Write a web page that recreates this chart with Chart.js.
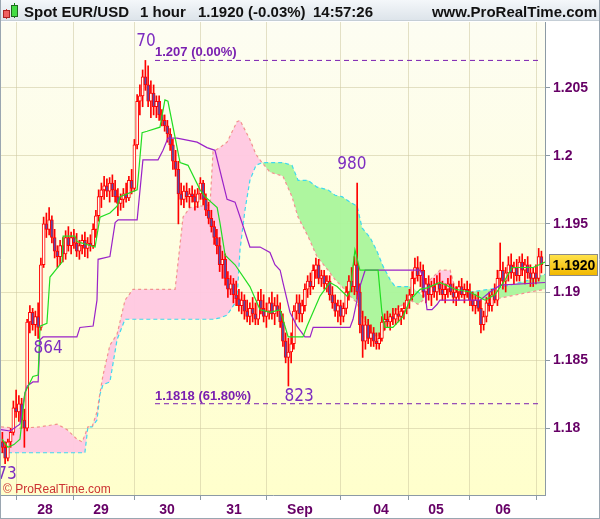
<!DOCTYPE html>
<html><head><meta charset="utf-8">
<script src="https://cdn.jsdelivr.net/npm/chart.js@4.4.0/dist/chart.umd.min.js"></script>
<style>html,body{margin:0;padding:0;background:#fff;overflow:hidden}</style>
</head><body>
<canvas id="c" width="600" height="519"></canvas>
<script>
// ---- data (bar index = hourly bar number) ----
const opens=[1.1790,1.1786,1.1778,1.1790,1.1797,1.1815,1.1812,1.1818,1.1806,1.1800,1.1878,1.1885,1.1876,1.1882,1.1874,1.1920,1.1950,1.1946,1.1953,1.1940,1.1930,1.1926,1.1934,1.1928,1.1940,1.1934,1.1940,1.1936,1.1930,1.1934,1.1938,1.1932,1.1936,1.1934,1.1946,1.1956,1.1970,1.1975,1.1978,1.1974,1.1980,1.1975,1.1970,1.1965,1.1968,1.1972,1.1969,1.1982,1.1976,1.2008,1.2040,1.2044,1.2058,1.2052,1.2040,1.2046,1.2036,1.2040,1.2030,1.2026,1.2022,1.2016,1.2008,1.1996,1.1990,1.1972,1.1968,1.1974,1.1970,1.1972,1.1970,1.1966,1.1972,1.1980,1.1968,1.1960,1.1954,1.1948,1.1940,1.1934,1.1920,1.1924,1.1910,1.1902,1.1906,1.1898,1.1895,1.1890,1.1894,1.1886,1.1882,1.1888,1.1884,1.1880,1.1894,1.1888,1.1882,1.1886,1.1892,1.1884,1.1890,1.1886,1.1878,1.1864,1.1852,1.1856,1.1862,1.1886,1.1892,1.1884,1.1890,1.1902,1.1908,1.1904,1.1916,1.1920,1.1910,1.1912,1.1906,1.1908,1.1898,1.1892,1.1886,1.1890,1.1882,1.1888,1.1900,1.1908,1.1904,1.1920,1.1900,1.1876,1.1864,1.1876,1.1866,1.1870,1.1864,1.1862,1.1866,1.1878,1.1880,1.1878,1.1882,1.1880,1.1884,1.1882,1.1886,1.1888,1.1894,1.1898,1.1910,1.1918,1.1912,1.1916,1.1900,1.1906,1.1898,1.1904,1.1900,1.1906,1.1902,1.1898,1.1902,1.1906,1.1900,1.1896,1.1900,1.1904,1.1898,1.1902,1.1900,1.1894,1.1890,1.1894,1.1888,1.1876,1.1882,1.1892,1.1890,1.1898,1.1894,1.1910,1.1916,1.1908,1.1914,1.1920,1.1914,1.1918,1.1912,1.1922,1.1916,1.1920,1.1914,1.1910,1.1914,1.1910,1.1926];
const highs=[1.1797,1.1790,1.1792,1.1800,1.1820,1.1828,1.1824,1.1822,1.1814,1.1880,1.1890,1.1888,1.1886,1.1892,1.1925,1.1955,1.1958,1.1962,1.1956,1.1946,1.1934,1.1938,1.1940,1.1945,1.1948,1.1944,1.1946,1.1943,1.1938,1.1942,1.1944,1.1940,1.1942,1.1950,1.1960,1.1975,1.1980,1.1985,1.1983,1.1984,1.1986,1.1982,1.1976,1.1972,1.1976,1.1980,1.1985,1.1990,1.2012,1.2045,1.2052,1.2063,1.2070,1.2066,1.2055,1.2052,1.2044,1.2044,1.2034,1.2030,1.2026,1.2020,1.2012,1.2004,1.1996,1.1980,1.1978,1.1980,1.1976,1.1978,1.1975,1.1976,1.1984,1.1982,1.1972,1.1966,1.1960,1.1952,1.1946,1.1940,1.1930,1.1928,1.1915,1.1912,1.1910,1.1908,1.1902,1.1900,1.1898,1.1894,1.1892,1.1896,1.1892,1.1900,1.1902,1.1898,1.1892,1.1896,1.1900,1.1896,1.1898,1.1892,1.1884,1.1870,1.1866,1.1870,1.1890,1.1898,1.1898,1.1894,1.1906,1.1912,1.1914,1.1920,1.1925,1.1924,1.1916,1.1916,1.1912,1.1912,1.1904,1.1898,1.1894,1.1894,1.1892,1.1904,1.1912,1.1918,1.1926,1.1980,1.1906,1.1886,1.1882,1.1880,1.1876,1.1874,1.1870,1.1870,1.1882,1.1884,1.1886,1.1884,1.1888,1.1888,1.1890,1.1888,1.1892,1.1898,1.1902,1.1915,1.1925,1.1926,1.1922,1.1920,1.1910,1.1912,1.1908,1.1910,1.1912,1.1914,1.1908,1.1906,1.1910,1.1912,1.1906,1.1904,1.1908,1.1910,1.1906,1.1908,1.1906,1.1900,1.1898,1.1900,1.1894,1.1886,1.1896,1.1900,1.1902,1.1906,1.1916,1.1936,1.1922,1.1918,1.1926,1.1928,1.1922,1.1924,1.1926,1.1928,1.1924,1.1926,1.1920,1.1918,1.1920,1.1932,1.1930];
const lows=[1.1782,1.1774,1.1776,1.1786,1.1795,1.1808,1.1805,1.1800,1.1786,1.1798,1.1870,1.1872,1.1868,1.1866,1.1872,1.1918,1.1940,1.1942,1.1936,1.1925,1.1918,1.1920,1.1922,1.1924,1.1930,1.1928,1.1932,1.1926,1.1924,1.1928,1.1926,1.1925,1.1930,1.1932,1.1940,1.1952,1.1962,1.1968,1.1970,1.1966,1.1970,1.1966,1.1956,1.1960,1.1962,1.1966,1.1967,1.1972,1.1974,1.2005,1.2030,1.2036,1.2048,1.2036,1.2028,1.2030,1.2028,1.2026,1.2022,1.2018,1.2010,1.2004,1.1990,1.1985,1.1950,1.1964,1.1962,1.1966,1.1962,1.1966,1.1960,1.1962,1.1968,1.1964,1.1956,1.1950,1.1944,1.1935,1.1928,1.1915,1.1910,1.1905,1.1896,1.1898,1.1892,1.1890,1.1886,1.1884,1.1880,1.1878,1.1876,1.1878,1.1876,1.1876,1.1884,1.1878,1.1874,1.1880,1.1880,1.1876,1.1882,1.1874,1.1860,1.1848,1.1831,1.1848,1.1858,1.1880,1.1878,1.1878,1.1886,1.1896,1.1898,1.1902,1.1910,1.1906,1.1904,1.1902,1.1900,1.1894,1.1888,1.1882,1.1878,1.1876,1.1878,1.1884,1.1894,1.1900,1.1898,1.1895,1.1870,1.1852,1.1858,1.1862,1.1860,1.1860,1.1858,1.1858,1.1864,1.1872,1.1874,1.1872,1.1876,1.1876,1.1878,1.1876,1.1880,1.1884,1.1888,1.1894,1.1906,1.1908,1.1904,1.1896,1.1892,1.1894,1.1890,1.1896,1.1894,1.1898,1.1894,1.1892,1.1896,1.1898,1.1892,1.1890,1.1894,1.1896,1.1892,1.1896,1.1890,1.1886,1.1884,1.1886,1.1870,1.1872,1.1878,1.1886,1.1886,1.1892,1.1890,1.1904,1.1902,1.1900,1.1908,1.1910,1.1906,1.1908,1.1908,1.1912,1.1906,1.1910,1.1904,1.1904,1.1906,1.1908,1.1914];
const closes=[1.1786,1.1778,1.1790,1.1797,1.1815,1.1812,1.1818,1.1806,1.1800,1.1878,1.1885,1.1876,1.1882,1.1874,1.1920,1.1950,1.1946,1.1953,1.1940,1.1930,1.1926,1.1934,1.1928,1.1940,1.1934,1.1940,1.1936,1.1930,1.1934,1.1938,1.1932,1.1936,1.1934,1.1946,1.1956,1.1970,1.1975,1.1978,1.1974,1.1980,1.1975,1.1970,1.1965,1.1968,1.1972,1.1969,1.1982,1.1976,1.2008,1.2040,1.2044,1.2058,1.2052,1.2040,1.2046,1.2036,1.2040,1.2030,1.2026,1.2022,1.2016,1.2008,1.1996,1.1990,1.1972,1.1968,1.1974,1.1970,1.1972,1.1970,1.1966,1.1972,1.1980,1.1968,1.1960,1.1954,1.1948,1.1940,1.1934,1.1920,1.1924,1.1910,1.1902,1.1906,1.1898,1.1895,1.1890,1.1894,1.1886,1.1882,1.1888,1.1884,1.1880,1.1894,1.1888,1.1882,1.1886,1.1892,1.1884,1.1890,1.1886,1.1878,1.1864,1.1852,1.1856,1.1862,1.1886,1.1892,1.1884,1.1890,1.1902,1.1908,1.1904,1.1916,1.1920,1.1910,1.1912,1.1906,1.1908,1.1898,1.1892,1.1886,1.1890,1.1882,1.1888,1.1900,1.1908,1.1904,1.1920,1.1900,1.1876,1.1864,1.1876,1.1866,1.1870,1.1864,1.1862,1.1866,1.1878,1.1880,1.1878,1.1882,1.1880,1.1884,1.1882,1.1886,1.1888,1.1894,1.1898,1.1910,1.1918,1.1912,1.1916,1.1900,1.1906,1.1898,1.1904,1.1900,1.1906,1.1902,1.1898,1.1902,1.1906,1.1900,1.1896,1.1900,1.1904,1.1898,1.1902,1.1900,1.1894,1.1890,1.1894,1.1888,1.1876,1.1882,1.1892,1.1890,1.1898,1.1894,1.1910,1.1916,1.1908,1.1914,1.1920,1.1914,1.1918,1.1912,1.1922,1.1916,1.1920,1.1914,1.1910,1.1914,1.1910,1.1926,1.1920];

// Ichimoku: Tenkan (green) and Kijun (purple) vertices [bar index, price]
const tenkanX=[-0.1,2.0,4.2,6.4,8.2,11.1,13.0,13.7,16.2,17.3,21.7,22.1,26.4,27.1,33.7,35.5,39.1,41.7,42.8,49.0,50.8,52.6,57.3,59.1,60.2,64.6,67.5,71.9,73.7,78.1,79.1,81.0,84.6,90.0,93.7,97.3,101.0,102.0,103.9,109.3,110.8,115.5,119.1,121.7,125.3,126.4,128.2,130.0,136.6,138.0,139.1,142.0,145.7,148.2,151.9,154.4,159.1,164.6,170.0,175.5,179.1,182.8,185.3,193.0,197.3];
const tenkanY=[1.1792,1.1786,1.1788,1.1792,1.1826,1.1838,1.1839,1.1875,1.1877,1.1911,1.1922,1.1941,1.1941,1.1937,1.1933,1.1955,1.1958,1.1963,1.1970,1.1975,1.2017,1.2018,1.2021,1.2041,1.2040,1.1995,1.1993,1.1975,1.1970,1.1962,1.1951,1.1927,1.1920,1.1904,1.1887,1.1885,1.1887,1.1880,1.1867,1.1867,1.1875,1.1897,1.1907,1.1904,1.1897,1.1900,1.1931,1.1916,1.1916,1.1885,1.1874,1.1874,1.1882,1.1894,1.1902,1.1903,1.1907,1.1902,1.1900,1.1894,1.1898,1.1909,1.1918,1.1918,1.1922];
const kijunX=[-0.5,2.8,6.4,8.2,9.0,11.1,13.0,13.7,14.8,27.1,28.2,33.0,34.4,34.8,39.1,41.0,42.1,49.0,51.1,56.6,58.4,60.2,63.5,70.8,74.4,77.3,81.7,84.6,87.1,90.0,93.7,97.3,99.1,101.0,102.0,104.6,107.1,110.0,111.9,113.0,126.4,127.5,130.0,131.9,151.9,153.0,154.4,156.2,158.1,159.1,173.7,177.3,181.0,197.3];
const kijunY=[1.1799,1.1798,1.1803,1.1826,1.1831,1.1834,1.1834,1.1865,1.1867,1.1867,1.1874,1.1875,1.1894,1.1924,1.1926,1.1951,1.1953,1.1953,1.1997,1.1997,1.2004,1.2013,1.2013,1.2010,1.2006,1.2004,1.1968,1.1966,1.1951,1.1933,1.1933,1.1929,1.1920,1.1916,1.1907,1.1885,1.1875,1.1867,1.1867,1.1874,1.1874,1.1880,1.1904,1.1916,1.1916,1.1911,1.1887,1.1887,1.1891,1.1894,1.1894,1.1900,1.1905,1.1907];
// Cloud: Senkou span A (cyan) and span B (salmon)
const cloudX=[-0.5,6.4,13.7,19.9,23.5,27.1,29.0,30.0,31.1,32.6,34.4,35.5,36.6,39.1,41.7,44.6,47.5,53.7,62.8,65.7,68.2,71.9,75.5,76.6,79.1,81.7,85.3,86.4,88.2,90.0,92.2,94.4,97.3,102.0,105.3,107.5,111.1,114.4,118.4,121.0,123.5,126.4,129.0,130.8,133.7,136.2,138.4,141.0,142.8,145.7,148.2,151.1,153.0,155.5,159.1,162.8,165.0,170.0,177.3,184.6,191.9,197.3];
const spanA=[1.1782,1.1782,1.1782,1.1782,1.1782,1.1782,1.1782,1.1782,1.1801,1.1801,1.1806,1.1825,1.1832,1.1834,1.1865,1.1880,1.1880,1.1880,1.1880,1.1880,1.1880,1.1880,1.1880,1.1880,1.1881,1.1883,1.1894,1.1931,1.1960,1.1982,1.1993,1.1995,1.1995,1.1995,1.1993,1.1982,1.1982,1.1977,1.1975,1.1971,1.1970,1.1966,1.1963,1.1947,1.1940,1.1930,1.1919,1.1909,1.1904,1.1904,1.1904,1.1900,1.1897,1.1900,1.1902,1.1902,1.1902,1.1900,1.1902,1.1905,1.1909,1.1913];
const spanB=[1.1801,1.1800,1.1801,1.1803,1.1799,1.1792,1.1790,1.1795,1.1801,1.1801,1.1812,1.1826,1.1839,1.1861,1.1869,1.1894,1.1902,1.1902,1.1902,1.1955,1.1962,1.1963,1.1964,1.2003,1.2006,1.2010,1.2025,1.2026,1.2019,1.2012,1.2001,1.1995,1.1988,1.1985,1.1970,1.1955,1.1941,1.1926,1.1916,1.1909,1.1904,1.1897,1.1892,1.1882,1.1872,1.1867,1.1870,1.1880,1.1886,1.1891,1.1894,1.1891,1.1894,1.1909,1.1916,1.1916,1.1900,1.1896,1.1894,1.1897,1.1900,1.1902];

// Fibonacci retracement levels
const fibLevels=[1.207,1.1818];
const fibLabels=['1.207 (0.00%)','1.1818 (61.80%)'];
const fibFrom=55.5, fibTo=196.2;

// swing markers
const markText=['70','864','73','823','980'];
const markIdx=[52.2,16.6,1.7,107.9,127.1];
const markPrice=[1.2070,1.1866,1.1774,1.1831,1.1980];
const markSide=['above','below','below','below','above'];

// axes
const dayTickIdx=[15.5,35.9,59.9,84.2,108.2,137.7,157.7,182.0];
const dayTickLabels=['28','29','30','31','Sep','04','05','06'];
const priceTicks=[1.18,1.185,1.19,1.195,1.2,1.205];
const lastPrice=1.1920;

// ---- chart ----
const RED='#ff0000';
const AXC='#660066';
const MARKC='#7d2dc0';
const FIBC='#7a1fb0';

const wickData=highs.map((h,i)=>({x:i,y:[lows[i],h]}));
const bodyData=opens.map((o,i)=>({x:i,y:[o,closes[i]]}));
const bodyFill=opens.map((o,i)=>closes[i]<o?'#5a4aa8':'#fffff2');

const pts=(xs,ys)=>xs.map((x,k)=>({x:x,y:ys[k]}));

const datasets=[
 {type:'bar',data:bodyData,backgroundColor:bodyFill,borderColor:RED,borderWidth:1,borderSkipped:false,barThickness:3,grouped:false,minBarLength:1,order:0},
 {type:'bar',data:wickData,backgroundColor:RED,borderWidth:0,barThickness:1,grouped:false,order:1},
 {type:'line',data:pts(kijunX,kijunY),borderColor:'#9a22c8',borderWidth:1.2,pointRadius:0,tension:0,fill:false,order:-1},
 {type:'line',data:pts(tenkanX,tenkanY),borderColor:'#22dd22',borderWidth:1.2,pointRadius:0,tension:0,fill:false,order:-2},
 {type:'line',data:pts(cloudX,spanA),borderColor:'#3fd9ee',borderWidth:1.2,borderDash:[4,3],pointRadius:0,tension:0,
   fill:{target:'+1',above:'rgba(170,245,155,0.95)',below:'rgba(255,200,226,0.95)'},order:6},
 {type:'line',data:pts(cloudX,spanB),borderColor:'#f49090',borderWidth:1.2,borderDash:[3,3],pointRadius:0,tension:0,fill:false,order:5},
];
fibLevels.forEach(v=>{
 datasets.push({type:'line',data:[{x:fibFrom,y:v},{x:fibTo,y:v}],borderColor:FIBC,borderWidth:1,borderDash:[5,4],pointRadius:0,fill:false,order:-3});
});

const bgPlugin={
 id:'bg',
 beforeDraw(chart){
  const ctx=chart.ctx, a=chart.chartArea;
  ctx.save();
  ctx.fillStyle='#ffffff';ctx.fillRect(0,0,600,519);
  const g=ctx.createLinearGradient(0,a.top,0,a.bottom);
  g.addColorStop(0,'#fdfdf2');g.addColorStop(1,'#ffffcc');
  ctx.fillStyle=g;ctx.fillRect(a.left,a.top,a.right-a.left,a.bottom-a.top);
  ctx.restore();
 },
 afterDraw(chart){
  const ctx=chart.ctx, a=chart.chartArea, xs=chart.scales.x, ys=chart.scales.y;
  ctx.save();
  // header
  const hg=ctx.createLinearGradient(0,0,0,20);
  hg.addColorStop(0,'#f4f7fa');hg.addColorStop(1,'#dde4ea');
  ctx.fillStyle=hg;ctx.fillRect(0,0,600,20);
  ctx.fillStyle='#c5ced6';ctx.fillRect(0,20,600,1);
  // icon
  ctx.fillStyle='#cc3333';ctx.fillRect(6,9,1,10);
  ctx.fillStyle='#f06060';ctx.fillRect(4,11,5,6);
  ctx.fillStyle='#118811';ctx.fillRect(14,3,1,15);
  ctx.fillStyle='#44dd44';ctx.fillRect(12,6,5,10);
  ctx.strokeStyle='#226622';ctx.lineWidth=1;ctx.strokeRect(11.5,5.5,6,11);
  ctx.strokeStyle='#aa2222';ctx.strokeRect(3.5,10.5,6,7);
  ctx.fillStyle='#111';
  ctx.font='bold 15px "Liberation Sans", Arial, sans-serif';
  ctx.textBaseline='alphabetic';ctx.textAlign='left';
  ctx.fillText('Spot EUR/USD',24,17);
  ctx.fillText('1 hour',140,17);
  ctx.fillText('1.1920 (-0.03%)',198,17);
  ctx.fillText('14:57:26',313,17);
  ctx.textAlign='right';
  ctx.fillText('www.ProRealTime.com',597,17);
  // fib labels
  ctx.font='bold 13px "Liberation Sans", Arial, sans-serif';
  ctx.fillStyle=FIBC;ctx.textAlign='left';ctx.textBaseline='alphabetic';
  fibLevels.forEach((v,k)=>{
   ctx.fillText(fibLabels[k],xs.getPixelForValue(fibFrom),ys.getPixelForValue(v)-4);
  });
  // markers
  ctx.font='17px "DejaVu Sans Condensed", "Liberation Sans Narrow", "DejaVu Sans", sans-serif';
  ctx.fillStyle=MARKC;ctx.textAlign='center';
  markText.forEach((t,k)=>{
   const x=xs.getPixelForValue(markIdx[k]), y=ys.getPixelForValue(markPrice[k]);
   if(markSide[k]==='above'){ctx.textBaseline='bottom';ctx.fillText(t,x,y-10);}
   else {ctx.textBaseline='top';ctx.fillText(t,x,y+2);}
  });
  // copyright
  ctx.font='12px "Liberation Sans", Arial, sans-serif';
  ctx.fillStyle='#cc3333';ctx.textAlign='left';ctx.textBaseline='alphabetic';
  ctx.fillText('\u00A9 ProRealTime.com',3,493);
  // last price box
  const py=Math.round(ys.getPixelForValue(lastPrice));
  ctx.fillStyle='#333';ctx.fillRect(a.right,py,5,1);
  const bg=ctx.createLinearGradient(0,py-10,0,py+10);
  bg.addColorStop(0,'#ffe24a');bg.addColorStop(1,'#f2b800');
  ctx.fillStyle=bg;ctx.fillRect(550,py-10,48,21);
  ctx.strokeStyle='#8a8a8a';ctx.lineWidth=1;ctx.strokeRect(549.5,py-10.5,48,21);
  ctx.fillStyle='#000';ctx.font='bold 14px "Liberation Sans", Arial, sans-serif';
  ctx.textAlign='center';ctx.textBaseline='middle';
  ctx.fillText(lastPrice.toFixed(4),574,py+1);
  // frame
  ctx.strokeStyle='#9aa6b1';ctx.lineWidth=1;
  ctx.beginPath();ctx.moveTo(0.5,0);ctx.lineTo(0.5,519);ctx.stroke();
  ctx.beginPath();ctx.moveTo(599.5,0);ctx.lineTo(599.5,519);ctx.stroke();
  ctx.beginPath();ctx.moveTo(0,518.5);ctx.lineTo(600,518.5);ctx.stroke();
  ctx.restore();
 }
};

new Chart(document.getElementById('c'),{
 type:'bar',
 data:{datasets:datasets},
 options:{
  responsive:false,animation:false,devicePixelRatio:1,
  layout:{padding:{top:22,left:1,right:0,bottom:0}},
  plugins:{legend:{display:false},tooltip:{enabled:false}},
  scales:{
   x:{type:'linear',min:-0.5,max:197.3,offset:false,
      afterBuildTicks(s){s.ticks=dayTickIdx.map(v=>({value:v}));},
      afterFit(s){s.height=24;},
      grid:{color:'rgba(205,200,160,0.55)',tickColor:'#8c9aa5',tickLength:5,drawOnChartArea:true},
      border:{color:'#8c9aa5',width:1},
      ticks:{autoSkip:false,maxRotation:0,padding:2,color:AXC,font:{family:'"Liberation Sans", Arial, sans-serif',size:14,weight:'bold'},
        callback:(v,i)=>dayTickLabels[i]}},
   y:{type:'linear',position:'right',min:1.17510,max:1.20982,
      afterBuildTicks(s){s.ticks=priceTicks.map(v=>({value:v}));},
      afterFit(s){s.width=55;},
      grid:{color:'rgba(205,200,160,0.55)',tickColor:'#8c9aa5',tickLength:5},
      border:{color:'#8c9aa5',width:1},
      ticks:{padding:3,color:AXC,font:{family:'"Liberation Sans", Arial, sans-serif',size:14,weight:'bold'},
        callback:(v)=>String(+v.toFixed(3))}}
  }
 },
 plugins:[bgPlugin]
});
</script>
</body></html>
